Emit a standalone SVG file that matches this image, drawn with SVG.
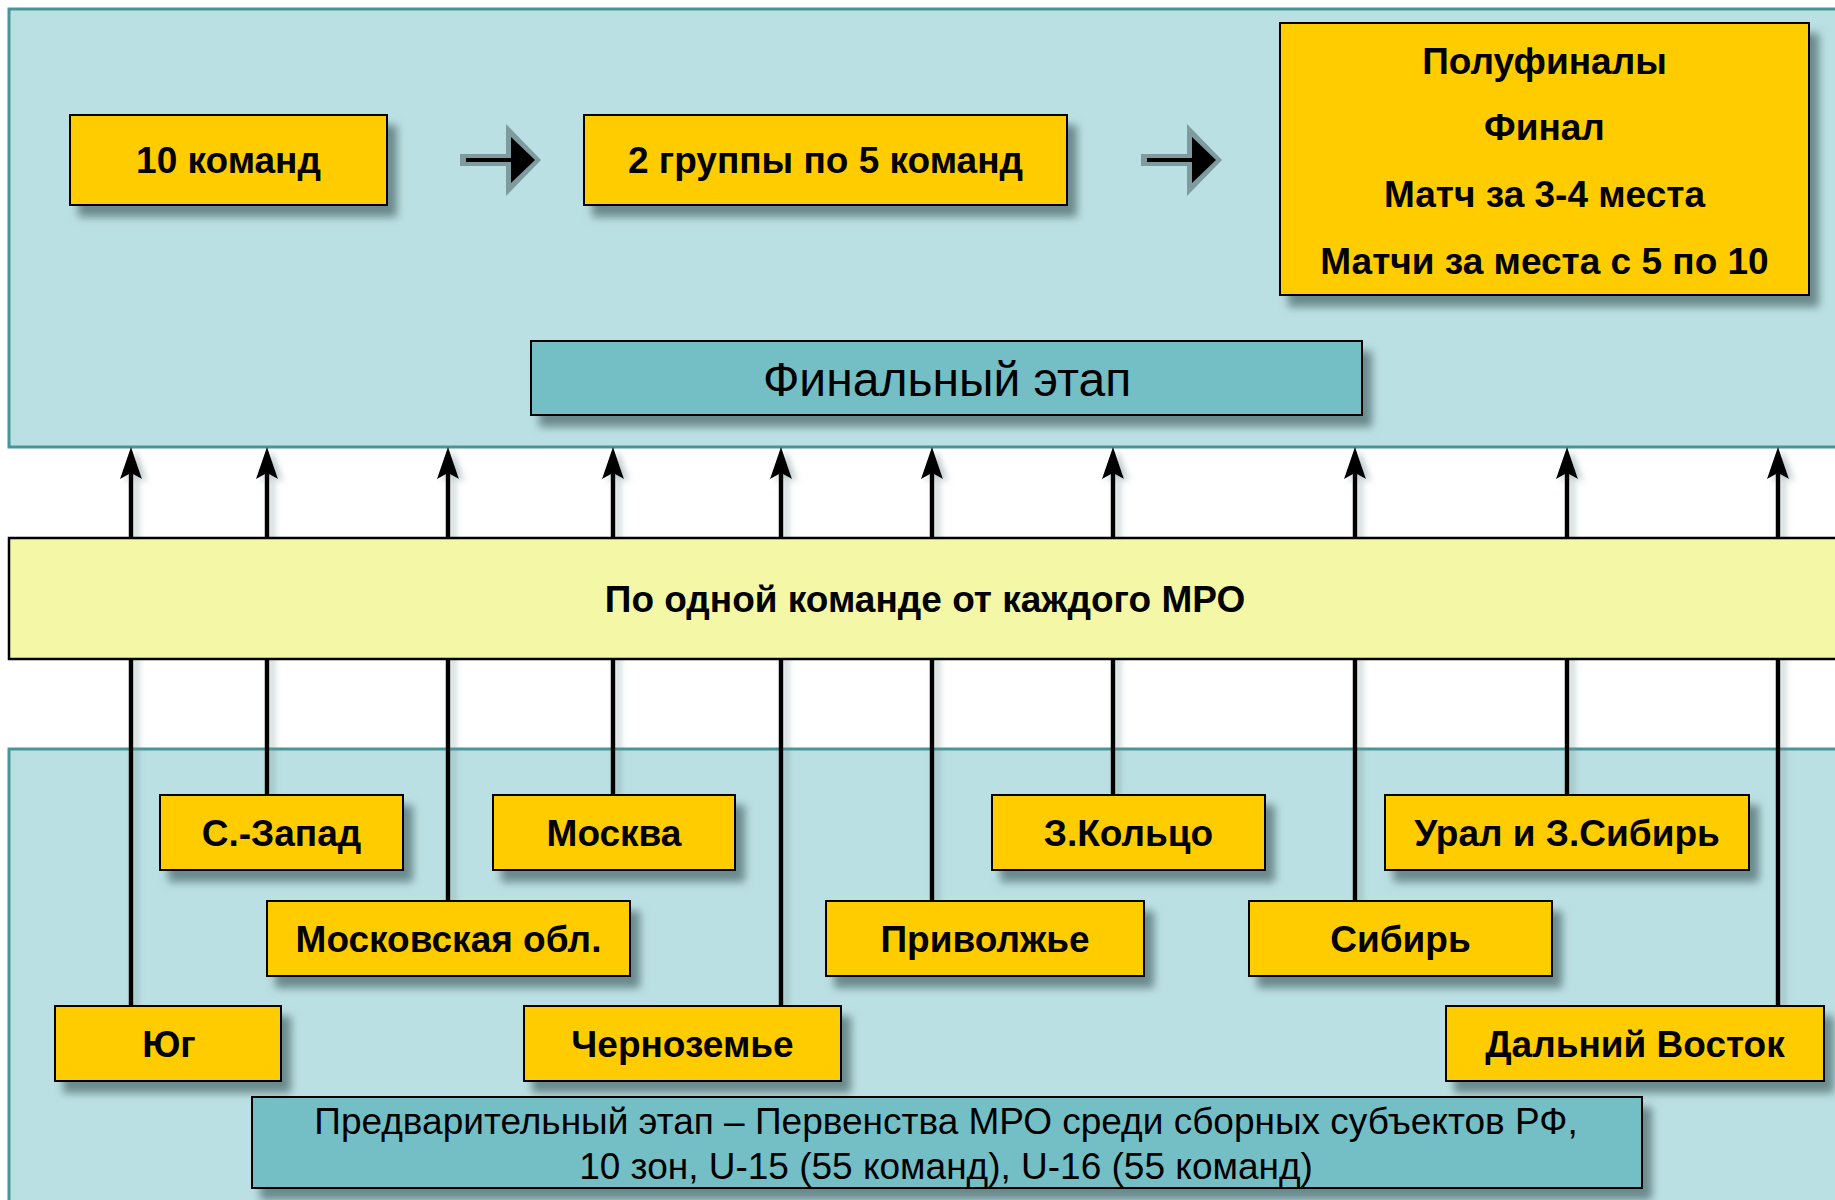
<svg xmlns="http://www.w3.org/2000/svg" width="1835" height="1200" viewBox="0 0 1835 1200">
<style>
  .panel { fill: #BBE0E3; stroke: #4A9599; stroke-width: 3; }
  .box { fill: #FFCC00; stroke: #000; stroke-width: 2; filter: url(#sh); }
  .stage { fill: #73BFC5; stroke: #000; stroke-width: 2; filter: url(#sh); }
  .band { fill: #F4F8A6; stroke: #000; stroke-width: 2.5; }
  .lbl { font-family: "Liberation Sans", Arial, sans-serif; font-weight: bold; font-size: 37px; fill: #000; text-anchor: middle; }
  .reg { font-family: "Liberation Sans", Arial, sans-serif; font-weight: normal; fill: #000; text-anchor: middle; }
  .conn { stroke: #000; stroke-width: 4.5; fill: none; marker-end: url(#ah); }
</style>
<defs>
  <filter id="sh" filterUnits="userSpaceOnUse" x="0" y="0" width="1835" height="1200">
    <feGaussianBlur in="SourceAlpha" stdDeviation="4"/>
    <feOffset dx="9" dy="11" result="b"/>
    <feFlood flood-color="#4F6D70" flood-opacity="0.75"/>
    <feComposite in2="b" operator="in" result="s"/>
    <feMerge><feMergeNode in="s"/><feMergeNode in="SourceGraphic"/></feMerge>
  </filter>
  <filter id="lsh" filterUnits="userSpaceOnUse" x="0" y="0" width="1835" height="1200">
    <feGaussianBlur in="SourceAlpha" stdDeviation="3"/>
    <feOffset dx="5" dy="3" result="b"/>
    <feFlood flood-color="#6E8A8E" flood-opacity="0.45"/>
    <feComposite in2="b" operator="in" result="s"/>
    <feMerge><feMergeNode in="s"/><feMergeNode in="SourceGraphic"/></feMerge>
  </filter>
  <marker id="ah" markerUnits="userSpaceOnUse" markerWidth="40" markerHeight="40" refX="0" refY="0" viewBox="-10 -20 40 40" orient="auto" overflow="visible">
    <path d="M26,0 L-6,-11 L0,0 L-6,11 Z" fill="#000"/>
  </marker>
</defs>

<rect id="final-panel" class="panel" x="9" y="9" width="1840" height="438"/>
<rect id="prelim-panel" class="panel" x="9" y="749" width="1840" height="470"/>

<g id="connectors" filter="url(#lsh)">
  <line class="conn" x1="131" y1="1006" x2="131" y2="473"/>
  <line class="conn" x1="267" y1="808" x2="267" y2="473"/>
  <line class="conn" x1="448" y1="901" x2="448" y2="473"/>
  <line class="conn" x1="613" y1="795" x2="613" y2="473"/>
  <line class="conn" x1="781" y1="1006" x2="781" y2="473"/>
  <line class="conn" x1="932" y1="901" x2="932" y2="473"/>
  <line class="conn" x1="1113" y1="795" x2="1113" y2="473"/>
  <line class="conn" x1="1355" y1="901" x2="1355" y2="473"/>
  <line class="conn" x1="1567" y1="795" x2="1567" y2="473"/>
  <line class="conn" x1="1778" y1="1006" x2="1778" y2="473"/>
</g>

<g id="flow-arrows">
  <g>
    <rect x="460" y="154" width="50" height="12" fill="#7E9C9F"/>
    <polygon points="506,124 541,160 506,196" fill="#7E9C9F"/>
    <line x1="466" y1="160" x2="515" y2="160" stroke="#000" stroke-width="4"/>
    <polygon points="511,137 535,160 511,183" fill="#000"/>
  </g>
  <g>
    <rect x="1141" y="154" width="50" height="12" fill="#7E9C9F"/>
    <polygon points="1187,124 1222,160 1187,196" fill="#7E9C9F"/>
    <line x1="1147" y1="160" x2="1196" y2="160" stroke="#000" stroke-width="4"/>
    <polygon points="1192,137 1216,160 1192,183" fill="#000"/>
  </g>
</g>

<g id="band">
  <rect class="band" x="9" y="538" width="1840" height="121"/>
  <text class="lbl" x="925" y="612">По одной команде от каждого МРО</text>
</g>

<g id="n-10teams">
  <rect class="box" x="70" y="115" width="317" height="90"/>
  <text class="lbl" x="228.5" y="173">10 команд</text>
</g>
<g id="n-2groups">
  <rect class="box" x="584" y="115" width="483" height="90"/>
  <text class="lbl" x="825.5" y="173">2 группы по 5 команд</text>
</g>
<g id="n-finals">
  <rect class="box" x="1280" y="23" width="529" height="272"/>
  <text class="lbl" x="1544.5" y="74">Полуфиналы</text>
  <text class="lbl" x="1544.5" y="140">Финал</text>
  <text class="lbl" x="1544.5" y="207">Матч за 3-4 места</text>
  <text class="lbl" x="1544.5" y="274">Матчи за места с 5 по 10</text>
</g>
<g id="n-final-stage">
  <rect class="stage" x="531" y="341" width="831" height="74"/>
  <text class="reg" x="947" y="396" font-size="48">Финальный этап</text>
</g>

<g id="n-szapad">
  <rect class="box" x="160" y="795" width="243" height="75"/>
  <text class="lbl" x="281.5" y="846">С.-Запад</text>
</g>
<g id="n-moskva">
  <rect class="box" x="493" y="795" width="242" height="75"/>
  <text class="lbl" x="614" y="846">Москва</text>
</g>
<g id="n-zkoltso">
  <rect class="box" x="992" y="795" width="273" height="75"/>
  <text class="lbl" x="1128.5" y="846">З.Кольцо</text>
</g>
<g id="n-ural">
  <rect class="box" x="1385" y="795" width="364" height="75"/>
  <text class="lbl" x="1567" y="846">Урал и З.Сибирь</text>
</g>
<g id="n-mosobl">
  <rect class="box" x="267" y="901" width="363" height="75"/>
  <text class="lbl" x="448.5" y="952">Московская обл.</text>
</g>
<g id="n-privolzhye">
  <rect class="box" x="826" y="901" width="318" height="75"/>
  <text class="lbl" x="985" y="952">Приволжье</text>
</g>
<g id="n-sibir">
  <rect class="box" x="1249" y="901" width="303" height="75"/>
  <text class="lbl" x="1400.5" y="952">Сибирь</text>
</g>
<g id="n-yug">
  <rect class="box" x="55" y="1006" width="226" height="75"/>
  <text class="lbl" x="169" y="1057">Юг</text>
</g>
<g id="n-chernozemye">
  <rect class="box" x="524" y="1006" width="317" height="75"/>
  <text class="lbl" x="682.5" y="1057">Черноземье</text>
</g>
<g id="n-dv">
  <rect class="box" x="1446" y="1006" width="378" height="75"/>
  <text class="lbl" x="1635" y="1057">Дальний Восток</text>
</g>
<g id="n-prelim-stage">
  <rect class="stage" x="252" y="1097" width="1390" height="91"/>
  <text class="reg" x="946" y="1134" font-size="37">Предварительный этап – Первенства МРО среди сборных субъектов РФ,</text>
  <text class="reg" x="946" y="1179" font-size="37">10 зон, U-15 (55 команд), U-16 (55 команд)</text>
</g>
</svg>
